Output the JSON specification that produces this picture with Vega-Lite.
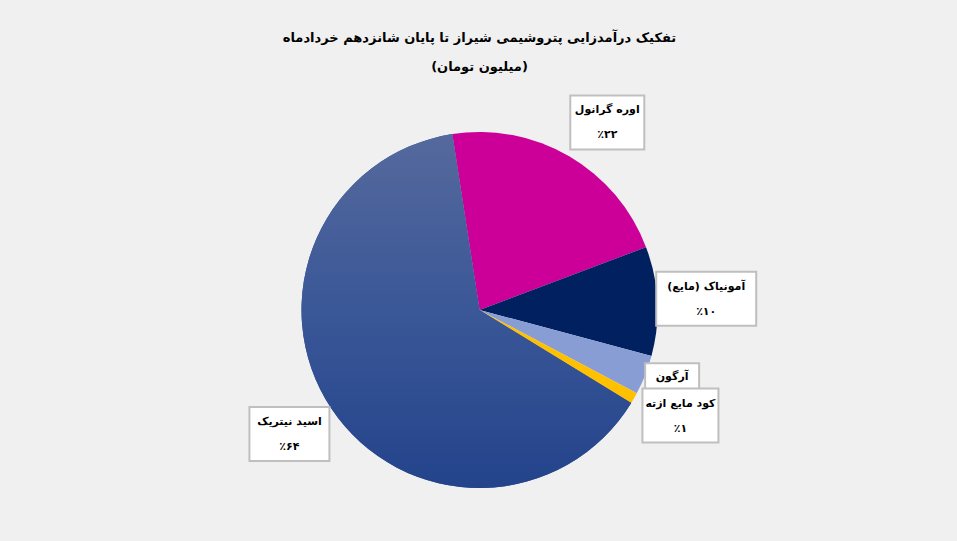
{
  "$schema": "https://vega.github.io/schema/vega-lite/v6.json",
  "width": 955,
  "height": 462,
  "autosize": {"type": "none"},
  "padding": {"left": 2, "top": 79, "right": 0, "bottom": 0},
  "background": "#F0F0F0",
  "config": {"view": {"stroke": null}},
  "title": {
    "text": ["تفکیک درآمدزایی پتروشیمی شیراز تا پایان شانزدهم خردادماه", "(میلیون تومان)"],
    "anchor": "middle",
    "frame": "group",
    "font": "DejaVu Sans",
    "fontSize": 13,
    "fontWeight": "bold",
    "color": "#000000",
    "lineHeight": 29,
    "offset": 5
  },
  "data": {
    "values": [
      {"name": "اوره گرانول", "value": 21.7, "order": 1, "pct": "٪۲۲"},
      {"name": "آمونیاک (مایع)", "value": 9.9, "order": 2, "pct": "٪۱۰"},
      {"name": "آرگون", "value": 3.6, "order": 3, "pct": ""},
      {"name": "کود مایع ازته", "value": 1.0, "order": 4, "pct": "٪۱"},
      {"name": "اسید نیتریک", "value": 63.8, "order": 5, "pct": "٪۶۴"}
    ]
  },
  "transform": [
    {"stack": "value", "groupby": [], "sort": [{"field": "order", "order": "ascending"}], "as": ["t0", "t1"]},
    {"calculate": "datum.order == 1 ? 4 : datum.order == 3 ? -2.2 : datum.order == 4 ? -2 : datum.order == 5 ? 0.5 : 0", "as": "nudge"},
    {"calculate": "-0.1536 + (datum.t0 + datum.t1) / 200 * 2 * PI + datum.nudge * PI / 180", "as": "mid"},
    {"calculate": "datum.order == 3 ? 204 : 227", "as": "lr"},
    {"calculate": "datum.lr * sin(datum.mid)", "as": "lx"},
    {"calculate": "datum.lr * cos(datum.mid)", "as": "ly"},
    {"calculate": "datum.order == 1 ? 74 : datum.order == 2 ? 100 : datum.order == 3 ? 54 : datum.order == 4 ? 76 : 80", "as": "bw"},
    {"calculate": "datum.order == 3 ? 28 : 54", "as": "bh"},
    {"calculate": "datum.lx - datum.bw / 2", "as": "bx0"},
    {"calculate": "datum.lx + datum.bw / 2", "as": "bx1"},
    {"calculate": "datum.ly - datum.bh / 2", "as": "by0"},
    {"calculate": "datum.ly + datum.bh / 2", "as": "by1"},
    {"calculate": "'\u200f' + datum.name + '\u200f'", "as": "lbl"}
  ],
  "layer": [
    {
      "mark": {"type": "arc", "radius": 178},
      "encoding": {
        "theta": {"field": "t0", "type": "quantitative", "scale": {"domain": [0, 100], "range": [-0.1536, 6.1296]}},
        "theta2": {"field": "t1"},
        "color": {
          "field": "name",
          "type": "nominal",
          "scale": {
            "domain": ["اوره گرانول", "آمونیاک (مایع)", "آرگون", "کود مایع ازته", "اسید نیتریک"],
            "range": ["#CC0099", "#002060", "#889DD4", "#FFC000", "#30509A"]
          },
          "legend": null
        }
      }
    },
    {
      "transform": [{"filter": "datum.order == 5"}],
      "mark": {
        "type": "arc",
        "radius": 178,
        "color": {
          "gradient": "linear", "x1": 0, "y1": 0, "x2": 0, "y2": 1,
          "stops": [
            {"offset": 0, "color": "#55699D"},
            {"offset": 0.5, "color": "#3A5797"},
            {"offset": 1, "color": "#23438B"}
          ]
        }
      },
      "encoding": {
        "theta": {"field": "t0", "type": "quantitative"},
        "theta2": {"field": "t1"}
      }
    },
    {
      "mark": {"type": "rect", "fill": "#FFFFFF", "stroke": "#BFBFBF", "strokeWidth": 2},
      "encoding": {
        "x": {"field": "bx0", "type": "quantitative", "scale": {"domain": [-477.5, 477.5], "nice": false, "zero": false}, "axis": null},
        "x2": {"field": "bx1"},
        "y": {"field": "by0", "type": "quantitative", "scale": {"domain": [-231, 231], "nice": false, "zero": false}, "axis": null},
        "y2": {"field": "by1"}
      }
    },
    {
      "transform": [{"filter": "datum.order != 3"}],
      "mark": {"type": "text", "font": "DejaVu Sans", "fontSize": 11, "fontWeight": "bold", "color": "#000000", "dy": -12, "align": "center", "baseline": "middle"},
      "encoding": {
        "x": {"field": "lx", "type": "quantitative"},
        "y": {"field": "ly", "type": "quantitative"},
        "text": {"field": "lbl"}
      }
    },
    {
      "transform": [{"filter": "datum.order != 3"}],
      "mark": {"type": "text", "font": "DejaVu Sans", "fontSize": 11, "fontWeight": "bold", "color": "#000000", "dy": 13, "align": "center", "baseline": "middle"},
      "encoding": {
        "x": {"field": "lx", "type": "quantitative"},
        "y": {"field": "ly", "type": "quantitative"},
        "text": {"field": "pct"}
      }
    },
    {
      "transform": [{"filter": "datum.order == 3"}],
      "mark": {"type": "text", "font": "DejaVu Sans", "fontSize": 11, "fontWeight": "bold", "color": "#000000", "align": "center", "baseline": "middle"},
      "encoding": {
        "x": {"field": "lx", "type": "quantitative"},
        "y": {"field": "ly", "type": "quantitative"},
        "text": {"field": "lbl"}
      }
    }
  ]
}
